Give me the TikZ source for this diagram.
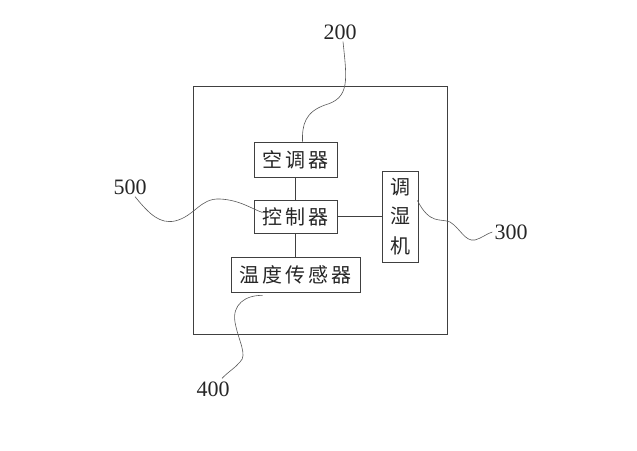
\documentclass[tikz,border=0pt]{standalone}
\usepackage{fontspec}
\setmainfont{Liberation Serif}
\newfontfamily\cjk[LetterSpace=16]{Noto Sans CJK SC}
\usepackage{tikz}

\begin{document}
\begin{tikzpicture}[x=1pt,y=-1pt]
\tikzstyle{unit} = [rectangle, draw=black!75, line width=0.8pt, inner sep=0pt, text centered, font=\cjk\fontsize{20}{29}\selectfont, text=black!85]
\tikzstyle{numlabel} = [inner sep=0pt, font=\fontsize{22}{24}\selectfont, text=black!85]
\tikzstyle{link} = [draw=black!75, line width=0.8pt]
\tikzstyle{leader} = [draw=black!65, line width=0.6pt]

\useasboundingbox (0,0) rectangle (637,450);

% housing
\draw [link] (193,86) rectangle (447,334);

\node (aircon) [unit, minimum width=83pt, minimum height=35pt] at (295.5,159.5) {空调器};
\node (ctrl) [unit, minimum width=83pt, minimum height=33pt] at (295.5,216.5) {控制器};
\node (sensor) [unit, minimum width=129pt, minimum height=35pt] at (295.5,274.5) {温度传感器};
\node (humid) [unit, minimum width=36pt, minimum height=91pt, align=center, font=\cjk\fontsize{20}{29.5}\selectfont] at (400,216.5) {调\\湿\\机};

\node (l200) [numlabel] at (340,32) {200};
\node (l500) [numlabel] at (130,187) {500};
\node (l300) [numlabel] at (511,232) {300};
\node (l400) [numlabel] at (213,389) {400};

\draw [link] (aircon) -- (ctrl);
\draw [link] (ctrl) -- (sensor);
\draw [link] (ctrl) -- (humid);

% leader lines
\draw [leader] ([xshift=3pt,yshift=-2pt]l200.south) .. controls (347,80) and (350,98) .. (325,105)
   .. controls (305,112) and (302,125) .. ([xshift=7pt]aircon.north);
\draw [leader] ([xshift=5pt,yshift=-2pt]l500.south) .. controls (150,215) and (160,224) .. (175,221)
   .. controls (195,216) and (200,198) .. (220,199) .. controls (240,200) and (252,209) .. ([xshift=-33pt,yshift=4pt]ctrl.center);
\draw [leader] ([xshift=-1pt,yshift=16pt]humid.east) .. controls (430,225) and (440,218) .. (450,222)
   .. controls (460,228) and (465,242) .. (475,240) .. controls (482,238) and (486,234) .. ([xshift=-2pt]l300.west);
\draw [leader] ([xshift=-33pt,yshift=-3pt]sensor.south) .. controls (245,295) and (232,305) .. (235,322)
   .. controls (238,340) and (248,355) .. (240,362) .. controls (235,368) and (228,372) .. ([xshift=9pt,yshift=3pt]l400.north);
\end{tikzpicture}
\end{document}
